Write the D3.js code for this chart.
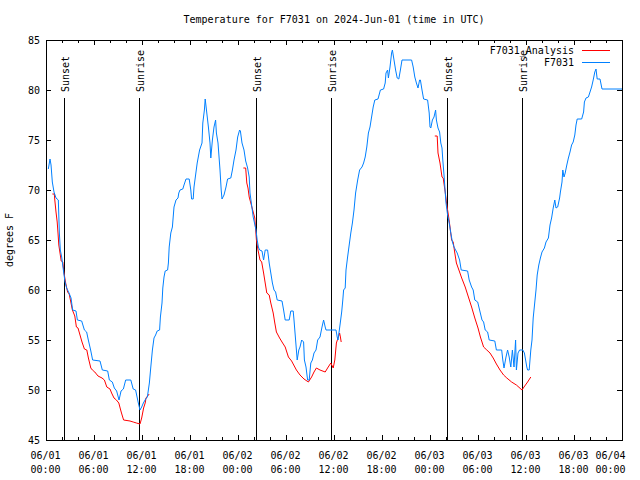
<!DOCTYPE html>
<html><head><meta charset="utf-8">
<script src="https://cdn.jsdelivr.net/npm/d3@7"></script>
<style>
body{margin:0;background:#fff}
svg{display:block}
text{font-family:"DejaVu Sans Mono",monospace;font-size:10px;fill:#000}
</style>
</head><body><script>
const chartTitle = "Temperature for F7031 on 2024-Jun-01 (time in UTC)";
const yAxisLabel = "degrees F";
const seriesNames = ["F7031_Analysis", "F7031"];
const seriesColors = ["#ff0000", "#0080ff"];

// hours after 2024-06-01 00:00 UTC
const stationHours = [0.29,0.5,0.63,0.79,1.0,1.25,1.54,1.67,1.79,1.96,2.17,2.38,2.58,2.88,3.13,3.33,3.75,3.92,4.46,4.8,5.08,5.29,5.58,5.83,6.75,7.04,7.71,7.92,8.29,8.54,8.83,9.13,9.38,9.67,9.96,10.6,10.9,11.2,11.54,11.75,11.96,12.17,12.46,12.67,12.92,13.1,13.3,13.5,13.7,13.9,14.2,14.3,14.5,14.6,14.75,14.9,15.2,15.3,15.4,15.6,15.8,15.9,16.0,16.25,16.5,16.6,16.75,17.1,17.25,17.5,17.9,18.1,18.2,18.4,18.5,18.7,18.9,19.2,19.5,19.6,19.8,19.9,20.1,20.3,20.5,20.6,20.8,21.0,21.2,21.3,21.5,21.75,21.9,22.0,22.25,22.5,22.7,23.1,23.3,23.5,23.75,23.96,24.2,24.3,24.5,24.75,24.96,25.1,25.2,25.4,25.5,25.7,25.9,26.25,26.4,26.55,26.7,27.0,27.2,27.4,27.7,27.9,28.1,28.3,28.5,28.7,28.9,29.5,29.7,29.9,30.4,30.6,30.9,31.0,31.2,31.4,31.6,31.75,31.96,32.2,32.3,32.5,32.7,32.9,33.1,33.3,33.5,33.75,33.96,34.25,34.5,34.7,34.9,35.0,36.25,36.4,36.5,36.75,36.96,37.1,37.2,37.4,37.5,37.7,37.9,38.1,38.3,38.5,38.7,38.96,39.2,39.5,39.7,39.9,40.1,40.3,40.5,40.7,40.9,41.1,41.5,41.8,42.2,42.4,42.5,42.7,42.8,43.0,43.2,43.3,43.5,43.7,43.9,44.1,44.3,44.5,45.7,45.9,46.1,46.3,46.5,46.7,46.8,47.0,47.2,47.7,47.9,48.0,48.1,48.3,48.5,48.7,48.8,49.0,49.2,49.35,49.5,49.6,49.75,49.9,50.0,50.2,50.4,50.6,50.8,51.0,51.2,51.4,51.7,51.9,52.7,52.9,53.2,53.4,53.6,53.96,54.2,54.5,54.7,54.9,55.2,55.4,56.1,56.3,56.96,57.1,57.25,57.5,57.7,57.9,58.1,58.3,58.5,58.7,58.8,59.0,59.2,59.6,59.8,60.1,60.2,60.4,60.6,60.75,60.9,61.1,61.25,61.4,61.6,61.8,62.0,62.3,62.5,62.8,63.0,63.2,63.4,63.6,63.75,63.96,64.2,64.3,64.5,64.6,64.75,64.9,65.1,65.3,65.5,65.7,65.9,66.1,66.25,66.4,66.96,67.2,67.3,67.5,67.8,68.0,68.2,68.4,68.6,68.75,68.9,69.25,69.5,72.0];
const stationTemps = [72.1,73.1,72.5,70.8,69.8,69.2,69.0,65.7,64.0,63.3,62.0,60.8,60.2,59.7,59.2,58.0,57.9,57.0,56.9,56.0,55.8,55.0,54.0,53.0,52.9,52.0,51.9,51.0,50.8,50.2,49.9,49.0,49.9,50.1,51.0,51.0,50.1,50.0,48.7,48.0,48.3,48.7,49.1,49.3,50.7,52.3,54.0,55.2,55.5,55.9,56.0,57.3,58.7,60.2,61.3,61.9,62.0,62.7,64.3,65.7,66.3,67.3,68.3,69.0,69.2,69.7,70.0,70.1,70.5,71.1,71.1,70.0,69.1,69.1,70.3,71.5,72.7,74.0,74.7,76.7,78.0,79.1,77.7,76.3,74.7,73.2,75.0,76.3,77.0,75.7,74.7,72.0,70.0,69.1,69.5,70.3,71.1,71.2,72.0,73.0,74.0,75.3,76.0,75.9,74.7,74.0,72.9,72.5,72.2,71.3,69.7,68.5,67.3,66.0,65.0,64.3,64.0,63.9,63.0,64.0,64.0,62.7,61.7,60.7,60.0,59.8,59.0,58.9,58.0,57.0,57.0,57.9,57.9,57.0,55.0,53.0,54.0,54.3,55.0,54.8,53.0,52.3,51.0,51.0,52.7,53.0,53.7,54.0,55.0,55.3,56.3,57.0,56.3,56.0,56.0,55.3,55.0,56.5,57.8,59.0,60.0,60.2,62.0,63.3,64.5,65.7,66.7,68.0,69.7,71.0,72.0,72.3,72.7,73.3,74.3,75.7,76.3,77.3,78.3,79.0,79.1,80.0,80.1,80.7,81.7,82.0,81.2,82.3,83.7,84.0,83.0,82.0,81.2,81.1,82.0,83.0,83.0,82.3,81.3,80.7,80.2,81.0,81.0,80.0,79.1,79.0,77.7,76.3,76.2,77.0,77.3,78.0,77.0,76.2,75.8,74.7,74.2,73.0,71.5,69.8,68.7,67.5,66.7,65.7,64.8,64.3,64.0,63.7,63.0,62.0,61.9,61.0,60.3,60.0,59.0,58.8,58.0,57.0,56.8,56.0,55.8,55.0,54.9,54.0,54.0,53.0,52.2,53.3,54.0,53.3,52.3,54.0,52.3,55.0,52.0,53.7,54.0,54.0,53.7,52.3,52.0,52.0,54.0,55.0,57.2,58.8,60.0,61.5,62.5,63.2,63.8,64.2,64.8,65.2,66.5,67.2,68.2,69.0,68.2,68.3,69.2,69.8,70.8,72.0,71.3,71.7,72.5,73.2,73.8,74.5,74.8,75.5,76.5,77.1,77.1,77.8,78.8,79.2,79.3,79.8,80.3,81.0,81.8,82.1,81.1,81.1,80.1,80.1];

// null marks a gap between analysis runs
const analysisHours = [0.8,1.04,1.1,1.25,1.4,1.5,1.6,1.75,1.9,2.1,2.25,2.46,2.7,2.9,3.1,3.3,3.6,3.8,4.0,4.25,4.5,4.8,5.1,5.3,5.6,5.8,6.1,6.5,7.0,7.3,7.6,8.0,8.2,8.5,8.8,9.1,9.4,9.7,10.5,10.9,11.3,11.75,11.96,12.2,12.4,12.5,12.8,12.9,
  18.0,
  24.67,24.96,25.1,25.25,25.4,25.6,25.9,26.1,26.3,26.5,26.75,26.96,27.2,27.4,27.6,27.9,28.1,28.4,28.6,28.8,29.2,29.5,29.9,30.3,30.7,31.3,31.75,32.25,32.8,33.2,33.5,33.8,34.25,34.9,35.2,35.6,35.9,36.1,36.3,36.7,36.8,36.9,
  42.0,
  48.6,48.9,49.0,49.25,49.5,49.65,49.9,50.1,50.3,50.5,50.7,50.9,51.1,51.3,51.7,51.96,52.4,52.8,53.2,53.6,54.0,54.3,54.7,55.1,55.5,55.9,56.3,56.75,57.2,57.6,58.2,58.8,59.5,59.75,60.2,60.6];
const analysisTemps = [69.6,69.6,69.0,67.8,66.8,65.7,64.5,63.7,62.9,62.8,61.7,60.7,59.8,59.6,58.8,58.0,57.4,56.3,56.2,55.5,54.8,54.1,54.0,53.2,52.2,52.0,51.8,51.4,51.2,51.0,50.3,50.1,49.7,49.2,49.0,48.7,47.8,47.0,46.9,46.8,46.7,46.6,47.2,48.2,48.7,49.2,49.5,49.6,
  null,
  72.2,72.2,70.7,70.2,69.3,68.7,67.8,67.2,65.0,64.0,63.0,62.8,61.7,60.7,59.7,59.5,58.7,57.7,56.7,55.8,55.2,54.8,54.3,53.3,52.9,52.0,51.5,51.1,50.8,51.3,51.8,52.2,52.0,51.8,52.2,52.7,52.2,53.0,54.7,55.7,55.3,54.8,
  null,
  75.4,75.4,73.7,72.7,71.3,71.2,69.8,68.5,67.5,66.3,65.0,64.8,63.7,62.7,61.8,61.2,60.3,59.3,58.3,57.2,56.2,55.3,54.3,54.0,53.7,53.2,52.6,52.0,51.5,51.2,50.8,50.5,50.0,50.3,50.8,51.3];

const sunsetHours = [2.25, 26.25, 50.17];
const sunriseHours = [11.67, 35.6, 59.55];
const yTicks = [45, 50, 55, 60, 65, 70, 75, 80, 85];
const xMajorHours = [0, 6, 12, 18, 24, 30, 36, 42, 48, 54, 60, 66, 72];

const t0 = Date.UTC(2024, 5, 1);
const toDate = h => new Date(t0 + h * 3600000);

const W = 640, H = 480;
const L = 46, R = 622, T = 40, B = 440;

const svg = d3.select("body").append("svg").attr("width", W).attr("height", H);
svg.append("rect").attr("width", W).attr("height", H).attr("fill", "#fff");

const x = d3.scaleUtc().domain([toDate(0), toDate(72)]).range([L, R]);
const y = d3.scaleLinear().domain([45, 85]).range([B, T]);

const noDomain = g => g.select(".domain").remove();

// minor x ticks (every 2 h), bottom and top
svg.append("g").attr("transform", `translate(0,${B})`)
  .call(d3.axisBottom(x).ticks(d3.utcHour.every(2)).tickSize(-3).tickFormat(() => ""))
  .call(noDomain);
svg.append("g").attr("transform", `translate(0,${T})`)
  .call(d3.axisTop(x).ticks(d3.utcHour.every(2)).tickSize(-3).tickFormat(() => ""))
  .call(noDomain);

// major x ticks
const fmtDate = d3.utcFormat("%m/%d"), fmtTime = d3.utcFormat("%H:%M");
const lastTick = toDate(72).getTime();
svg.append("g").attr("transform", `translate(0,${B})`)
  .call(d3.axisBottom(x).tickValues(xMajorHours.map(toDate)).tickSize(-5).tickFormat(() => ""))
  .call(noDomain)
  .call(g => g.selectAll(".tick text").each(function(d) {
    const isLast = d.getTime() === lastTick;
    const dx = isLast ? -12 : -1;
    const t = d3.select(this).attr("y", null).attr("dy", null).attr("text-anchor", "middle");
    t.append("tspan").attr("x", dx).attr("y", 19).text(fmtDate(d));
    t.append("tspan").attr("x", dx).attr("y", 33).text(fmtTime(d));
  }));
svg.append("g").attr("transform", `translate(0,${T})`)
  .call(d3.axisTop(x).tickValues(xMajorHours.map(toDate)).tickSize(-5).tickFormat(() => ""))
  .call(noDomain);

// y ticks, left with labels, right mirrored
svg.append("g").attr("transform", `translate(${L},0)`)
  .call(d3.axisLeft(y).tickValues(yTicks).tickSize(-5).tickPadding(6).tickFormat(d3.format("d")))
  .call(noDomain);
svg.append("g").attr("transform", `translate(${R},0)`)
  .call(d3.axisRight(y).tickValues(yTicks).tickSize(-5).tickFormat(() => ""))
  .call(noDomain);

// border
svg.append("rect").attr("x", L + 0.5).attr("y", T + 0.5).attr("width", R - L).attr("height", B - T)
  .attr("fill", "none").attr("stroke", "#000").attr("stroke-width", 1);

// sunset / sunrise markers
const sunEvents = sunsetHours.map(h => ({h, label: "Sunset"}))
  .concat(sunriseHours.map(h => ({h, label: "Sunrise"})));
const sunG = svg.append("g");
sunEvents.forEach(e => {
  const px = Math.round(x(toDate(e.h))) + 0.5;
  sunG.append("line").attr("x1", px).attr("x2", px).attr("y1", y(79.2)).attr("y2", B)
    .attr("stroke", "#000").attr("stroke-width", 1);
  sunG.append("text").attr("transform", `translate(${px + 4.5},${y(79.8)}) rotate(-90)`)
    .attr("text-anchor", "start").text(e.label);
});

// series
const line = d3.line()
  .defined(d => d.t != null)
  .x(d => x(toDate(d.h)))
  .y(d => y(d.t));
const analysisData = analysisHours.map((h, i) => ({h, t: analysisTemps[i]}));
const stationData = stationHours.map((h, i) => ({h, t: stationTemps[i]}));

svg.append("path").datum(analysisData).attr("d", line)
  .attr("fill", "none").attr("stroke", seriesColors[0]).attr("stroke-width", 1);
svg.append("path").datum(stationData).attr("d", line)
  .attr("fill", "none").attr("stroke", seriesColors[1]).attr("stroke-width", 1);

// legend
seriesNames.forEach((name, i) => {
  const ly = 50 + i * 12;
  svg.append("text").attr("x", 574).attr("y", ly).attr("dy", "0.35em")
    .attr("text-anchor", "end").text(name);
  svg.append("line").attr("x1", 582).attr("x2", 610).attr("y1", ly + 0.5).attr("y2", ly + 0.5)
    .attr("stroke", seriesColors[i]).attr("stroke-width", 1);
});

// title and y label
svg.append("text").attr("x", 334).attr("y", 19).attr("dy", "0.35em")
  .attr("text-anchor", "middle").text(chartTitle);
svg.append("text").attr("transform", `translate(13,240) rotate(-90)`)
  .attr("text-anchor", "middle").text(yAxisLabel);
</script></body></html>
